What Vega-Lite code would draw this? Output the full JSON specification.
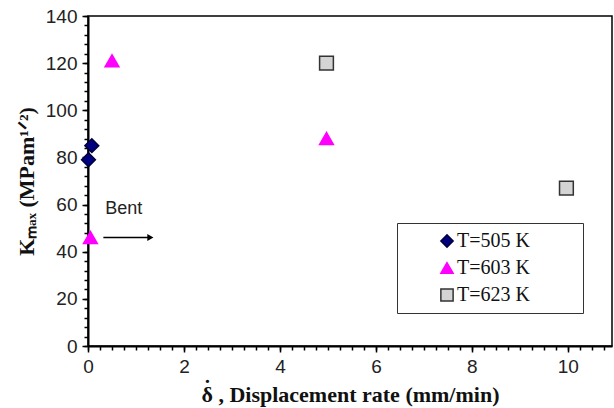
{
  "$schema": "https://vega.github.io/schema/vega-lite/v6.json",
  "width": 524,
  "height": 330,
  "autosize": {"type": "none"},
  "padding": {"left": 88, "top": 16, "right": 2, "bottom": 62},
  "background": "white",
  "config": {
    "view": {"stroke": "black", "strokeWidth": 1.5},
    "axis": {
      "grid": false,
      "domainColor": "black",
      "domainWidth": 2,
      "tickColor": "black",
      "tickWidth": 1.5,
      "tickSize": 6,
      "labelFont": "Liberation Sans",
      "labelFontSize": 19,
      "labelColor": "#222222",
      "titleFont": "Liberation Serif",
      "titleFontWeight": "bold",
      "titleFontSize": 22,
      "titleColor": "#111111"
    },
    "legend": {
      "orient": "none",
      "legendX": 309,
      "legendY": 207,
      "strokeColor": "#333333",
      "fillColor": "white",
      "padding": 8,
      "rowPadding": 7,
      "symbolOffset": 32,
      "symbolSize": 150,
      "symbolStrokeWidth": 1.5,
      "labelFont": "Liberation Serif",
      "labelFontSize": 20,
      "labelColor": "#111111",
      "labelOffset": 0
    }
  },
  "resolve": {"axis": {"x": "independent", "y": "independent"}},
  "datasets": {
    "pts": [
      {"rate": 0.08, "K": 85, "T": "T=505 K"},
      {"rate": 0.01, "K": 79, "T": "T=505 K"},
      {"rate": 0.5, "K": 121, "T": "T=603 K"},
      {"rate": 0.05, "K": 46, "T": "T=603 K"},
      {"rate": 4.97, "K": 88, "T": "T=603 K"},
      {"rate": 4.97, "K": 120, "T": "T=623 K"},
      {"rate": 9.97, "K": 67, "T": "T=623 K"}
    ],
    "label": [{"rate": 0.36, "K": 58, "text": "Bent"}],
    "arrow": [{"rate": 0.32, "rate2": 1.28, "K": 46}],
    "head": [{"rate": 1.3, "K": 46}]
  },
  "layer": [
    {
      "data": {"name": "pts"},
      "mark": {"type": "point", "filled": true, "size": 190, "strokeWidth": 1.5, "opacity": 1},
      "encoding": {
        "x": {
          "field": "rate",
          "type": "quantitative",
          "scale": {"domain": [0, 10.92], "nice": false, "zero": false},
          "axis": {
            "orient": "bottom",
            "title": null,
            "labels": false,
            "domain": true,
            "tickSize": 4,
            "values": [0, 0.25, 0.5, 0.75, 1, 1.25, 1.5, 1.75, 2, 2.25, 2.5, 2.75, 3, 3.25, 3.5, 3.75, 4, 4.25, 4.5, 4.75, 5, 5.25, 5.5, 5.75, 6, 6.25, 6.5, 6.75, 7, 7.25, 7.5, 7.75, 8, 8.25, 8.5, 8.75, 9, 9.25, 9.5, 9.75, 10, 10.25, 10.5, 10.75]
          }
        },
        "y": {
          "field": "K",
          "type": "quantitative",
          "scale": {"domain": [0, 140], "nice": false},
          "axis": {
            "orient": "left",
            "title": null,
            "labels": false,
            "domain": true,
            "tickSize": 4,
            "values": [0, 4, 8, 12, 16, 20, 24, 28, 32, 36, 40, 44, 48, 52, 56, 60, 64, 68, 72, 76, 80, 84, 88, 92, 96, 100, 104, 108, 112, 116, 120, 124, 128, 132, 136, 140]
          }
        },
        "shape": {
          "field": "T",
          "type": "nominal",
          "scale": {"domain": ["T=505 K", "T=603 K", "T=623 K"], "range": ["diamond", "triangle-up", "square"]},
          "legend": {"title": null, "labelExpr": "datum.label + '\u2800\u2800\u2800'", "encode": {"legend": {"update": {"strokeWidth": {"value": 2}}}}}
        },
        "fill": {
          "field": "T",
          "type": "nominal",
          "scale": {"domain": ["T=505 K", "T=603 K", "T=623 K"], "range": ["#000080", "#FF00FF", "#D4D4D4"]},
          "legend": {"title": null, "labelExpr": "datum.label + '\u2800\u2800\u2800'", "encode": {"legend": {"update": {"strokeWidth": {"value": 2}}}}}
        },
        "stroke": {
          "field": "T",
          "type": "nominal",
          "scale": {"domain": ["T=505 K", "T=603 K", "T=623 K"], "range": ["#00003a", "#FF00FF", "#333333"]},
          "legend": {"title": null, "labelExpr": "datum.label + '\u2800\u2800\u2800'", "encode": {"legend": {"update": {"strokeWidth": {"value": 2}}}}}
        }
      }
    },
    {
      "data": {"name": "label"},
      "mark": {"type": "text", "align": "left", "baseline": "middle", "font": "Liberation Sans", "fontSize": 18, "color": "#222222"},
      "encoding": {
        "x": {
          "field": "rate",
          "type": "quantitative",
          "axis": {
            "orient": "bottom",
            "title": ["˙\u2003\u2003\u2003\u2003\u2003\u2003\u2003\u2003\u2003\u2003\u2003\u2003\u2003\u200b", "δ , Displacement rate (mm/min)"],
            "titleLineHeight": 7,
            "values": [0, 2, 4, 6, 8, 10],
            "domain": false,
            "labelFlush": false,
            "labelPadding": 5,
            "titlePadding": 1
          }
        },
        "y": {
          "field": "K",
          "type": "quantitative",
          "axis": {
            "orient": "left",
            "title": "Kₘₐₓ (MPam¹ᐟ²)",
            "values": [0, 20, 40, 60, 80, 100, 120, 140],
            "domain": false,
            "labelFlush": false,
            "labelPadding": 5,
            "titlePadding": 7
          }
        },
        "text": {"field": "text"}
      }
    },
    {
      "data": {"name": "arrow"},
      "mark": {"type": "rule", "color": "black", "strokeWidth": 1.5},
      "encoding": {
        "x": {"field": "rate", "type": "quantitative", "axis": null},
        "x2": {"field": "rate2"},
        "y": {"field": "K", "type": "quantitative", "axis": null}
      }
    },
    {
      "data": {"name": "head"},
      "mark": {"type": "point", "shape": "triangle-right", "filled": true, "color": "black", "size": 50, "opacity": 1},
      "encoding": {
        "x": {"field": "rate", "type": "quantitative", "axis": null},
        "y": {"field": "K", "type": "quantitative", "axis": null}
      }
    }
  ]
}
